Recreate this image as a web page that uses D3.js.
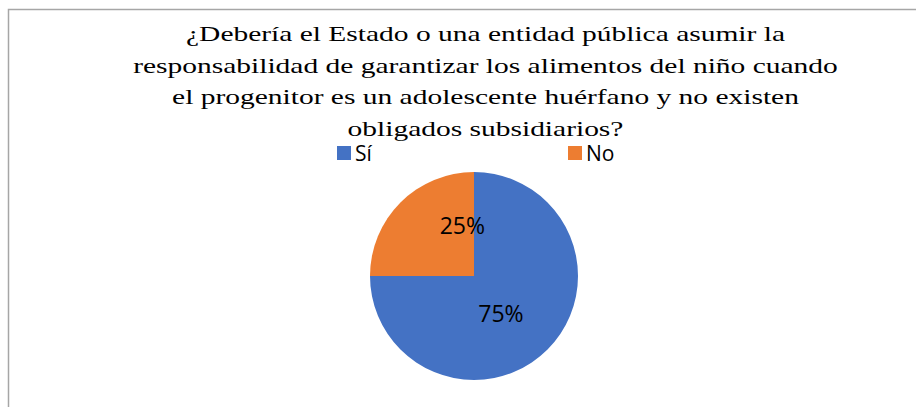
<!DOCTYPE html>
<html>
<head>
<meta charset="utf-8">
<script src="https://cdn.jsdelivr.net/npm/d3@7"></script>
<style>
  body { margin: 0; background: #fff; }
</style>
</head>
<body>
<svg id="chart" width="916" height="407"></svg>
<script>
(function(){
    var categories = ['Sí', 'No'];
    var values = [75, 25];
    var colors = ['#4472c4', '#ed7d31'];
    var titleLines = [
        '¿Debería el Estado o una entidad pública asumir la',
        'responsabilidad de garantizar los alimentos del niño cuando',
        'el progenitor es un adolescente huérfano y no existen',
        'obligados subsidiarios?'
    ];

    var W = 916, H = 407;
    var cx = 474, cy = 276, r = 104;

    var svg = d3.select('#chart');

    // chart border (runs off the right and bottom)
    svg.append('rect')
        .attr('x', 8.5).attr('y', 9.5)
        .attr('width', W + 10).attr('height', H + 10)
        .style('fill', '#fff')
        .style('stroke', '#a6a6a6')
        .style('stroke-width', 1.5);

    // title is stretched sideways in the original
    var title = svg.append('g')
        .attr('transform', 'translate(485.5,0) scale(1.34,1)');
    title.append('text')
        .attr('text-anchor', 'middle')
        .style('font-family', "'Liberation Serif'")
        .style('font-size', '22px')
        .style('fill', '#000')
        .selectAll('tspan')
        .data(titleLines)
        .enter().append('tspan')
        .attr('x', 0)
        .attr('y', function(d, i){ return 41 + i * 31.6; })
        .text(function(d){ return d; });

    // legend
    var legX = d3.scalePoint().domain(categories).range([337, 568]);
    var leg = svg.selectAll('.leg')
        .data(categories)
        .enter().append('g')
        .attr('class', 'leg')
        .attr('transform', function(d){ return 'translate(' + legX(d) + ',146)'; });
    leg.append('rect')
        .attr('width', 14).attr('height', 14)
        .style('fill', function(d, i){ return colors[i]; });
    leg.append('text')
        .attr('x', 18).attr('y', 15)
        .style('font-family', "'Open Sans'")
        .style('font-size', '21px')
        .style('fill', '#000')
        .text(function(d){ return d; });

    // pie
    var pie = d3.pie().sort(null).value(function(d){ return d; });
    var arc = d3.arc().innerRadius(0).outerRadius(r);
    var arcs = pie(values);

    var g = svg.append('g').attr('transform', 'translate(' + cx + ',' + cy + ')');
    g.selectAll('path')
        .data(arcs)
        .enter().append('path')
        .attr('d', arc)
        .style('fill', function(d, i){ return colors[i]; });

    // labels sit clockwise of the slice bisector, like Excel's best fit
    var shift = [0.16, 0.56];
    var dist = [46, 52];
    g.selectAll('.lbl')
        .data(arcs)
        .enter().append('text')
        .attr('class', 'lbl')
        .attr('transform', function(d, i){
            var a = (d.startAngle + d.endAngle) / 2 + shift[i];
            return 'translate(' + (Math.sin(a) * dist[i]) + ',' + (-Math.cos(a) * dist[i]) + ')';
        })
        .attr('text-anchor', 'middle')
        .attr('dy', '0.36em')
        .style('font-family', "'Open Sans'")
        .style('font-size', '23px')
        .style('fill', '#000')
        .text(function(d){ return d.data + '%'; });
})();
</script>
</body>
</html>
